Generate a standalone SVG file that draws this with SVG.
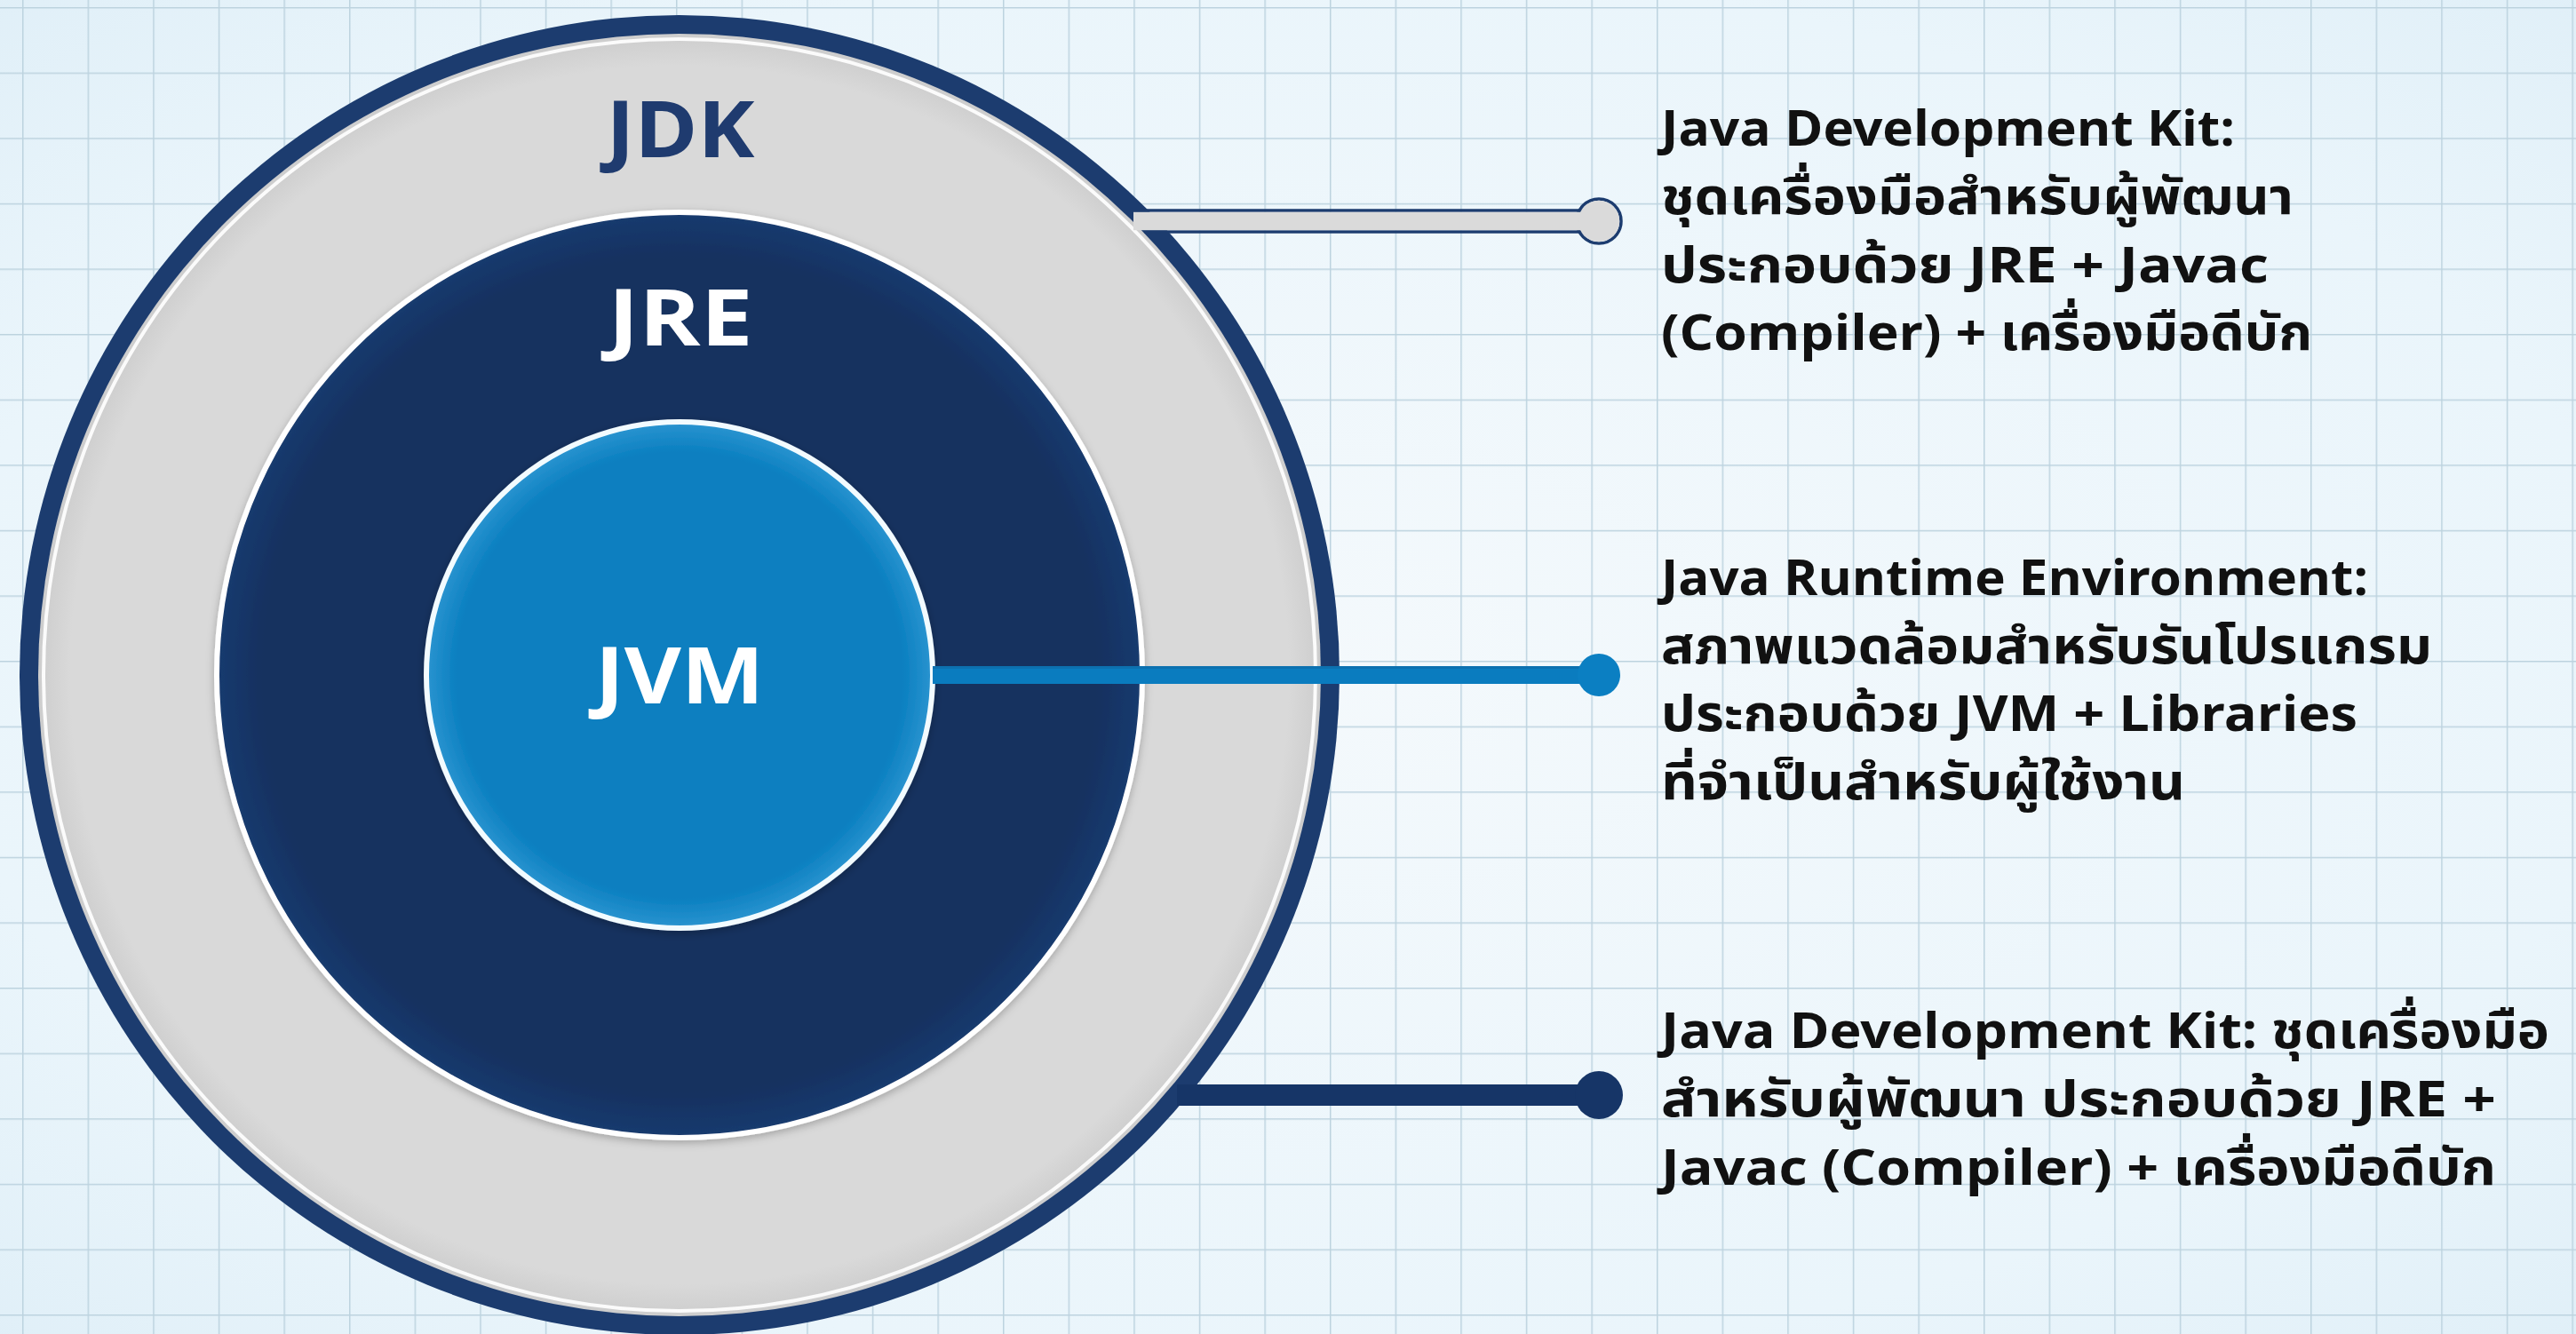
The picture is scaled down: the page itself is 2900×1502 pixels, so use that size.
<svg xmlns="http://www.w3.org/2000/svg" width="2900" height="1502" viewBox="0 0 2900 1502">
  <defs>
    <radialGradient id="bg" cx="0.5" cy="0.5" r="0.75">
      <stop offset="0" stop-color="#f4f9fc"/>
      <stop offset="0.7" stop-color="#eaf5fb"/>
      <stop offset="1" stop-color="#deeef7"/>
    </radialGradient>
    <pattern id="grid" x="25" y="8" width="73.6" height="73.6" patternUnits="userSpaceOnUse">
      <path d="M0 0 H73.6 M0 0 V73.6" fill="none" stroke="#bdd3df" stroke-width="3"/>
    </pattern>
    <radialGradient id="grayFill" cx="0.5" cy="0.5" r="0.5">
      <stop offset="0.95" stop-color="#d9d9d9"/>
      <stop offset="1" stop-color="#cdcdcd"/>
    </radialGradient>
    <radialGradient id="navyFill" cx="0.5" cy="0.5" r="0.5">
      <stop offset="0.9" stop-color="#12305f"/>
      <stop offset="1" stop-color="#1a3b6f"/>
    </radialGradient>
    <radialGradient id="blueFill" cx="0.5" cy="0.5" r="0.5">
      <stop offset="0.88" stop-color="#0a7fc0"/>
      <stop offset="1" stop-color="#2a94d0"/>
    </radialGradient>
    <filter id="soft" x="-10%" y="-10%" width="120%" height="120%">
      <feDropShadow dx="0" dy="3" stdDeviation="5" flood-color="#000" flood-opacity="0.25"/>
    </filter>
    <style>
      .label { font-family: "Open Sans", "Noto Sans", "Liberation Sans", sans-serif; font-weight: 700; text-anchor: middle; }
      .desc { font-family: "Noto Sans Thai", "Noto Sans", "Liberation Sans", sans-serif; font-weight: 700; font-size: 56px; fill: #111111; }
    </style>
  </defs>

  <!-- paper background with square grid -->
  <rect width="2900" height="1502" fill="url(#bg)"/>
  <rect width="2900" height="1502" fill="url(#grid)"/>

  <!-- JDK: outer ring -->
  <g id="node-jdk">
    <circle cx="765" cy="760" r="743" fill="#1c3c6f"/>
    <circle cx="765" cy="760" r="722" fill="url(#grayFill)"/>
    <circle cx="765" cy="760" r="716" fill="none" stroke="#ffffff" stroke-width="4" opacity="0.9"/>
    <text class="label" x="766" y="177" font-size="88" fill="#1f3b6f" textLength="167" lengthAdjust="spacingAndGlyphs">JDK</text>
  </g>

  <!-- JRE: middle disc -->
  <g id="node-jre">
    <circle cx="765" cy="760" r="521" fill="url(#navyFill)" stroke="#ffffff" stroke-width="6" filter="url(#soft)"/>
    <text class="label" x="766" y="389" font-size="88" fill="#ffffff" textLength="163" lengthAdjust="spacingAndGlyphs">JRE</text>
  </g>

  <!-- JVM: inner core -->
  <g id="node-jvm">
    <circle cx="765" cy="760" r="285" fill="url(#blueFill)" stroke="#f2fbff" stroke-width="6" filter="url(#soft)"/>
    <text class="label" x="765" y="792" font-size="88" fill="#ffffff" textLength="190" lengthAdjust="spacingAndGlyphs">JVM</text>
  </g>

  <!-- leader lines from each layer to its description -->
  <g id="connectors">
    <!-- JDK leader: light bar with navy outline -->
    <g id="conn-jdk">
      <rect x="1290" y="237" width="510" height="24" fill="none" stroke="#1c3c6f" stroke-width="3.5"/>
      <circle cx="1800" cy="249" r="25" fill="none" stroke="#1c3c6f" stroke-width="3.5"/>
      <rect x="1276" y="238.8" width="524" height="20.4" fill="#dadada"/>
      <circle cx="1800" cy="249" r="23.2" fill="#dadada"/>
    </g>
    <!-- JRE leader: blue bar from the JVM core -->
    <g id="conn-jre">
      <rect x="1050" y="750" width="750" height="20" fill="#0a7cbf"/>
      <rect x="1050" y="750" width="750" height="3" fill="#0e6aa6" opacity="0.6"/>
      <circle cx="1800" cy="760" r="24" fill="#0b7fc2"/>
    </g>
    <!-- lower JDK leader: solid navy bar -->
    <g id="conn-jdk-2">
      <rect x="1325" y="1221" width="475" height="24" fill="#163567"/>
      <circle cx="1800" cy="1233" r="27" fill="#163567"/>
    </g>
  </g>

  <!-- descriptions -->
  <g id="desc-jdk">
    <text class="desc" x="1870" y="164" textLength="646" lengthAdjust="spacingAndGlyphs">Java Development Kit:</text>
    <text class="desc" x="1870" y="241" textLength="712" lengthAdjust="spacingAndGlyphs">ชุดเครื่องมือสำหรับผู้พัฒนา</text>
    <text class="desc" x="1870" y="318" textLength="684" lengthAdjust="spacingAndGlyphs">ประกอบด้วย JRE + Javac</text>
    <text class="desc" x="1870" y="394" textLength="733" lengthAdjust="spacingAndGlyphs">(Compiler) + เครื่องมือดีบัก</text>
  </g>

  <g id="desc-jre">
    <text class="desc" x="1870" y="670" textLength="796" lengthAdjust="spacingAndGlyphs">Java Runtime Environment:</text>
    <text class="desc" x="1870" y="747" textLength="868" lengthAdjust="spacingAndGlyphs">สภาพแวดล้อมสำหรับรันโปรแกรม</text>
    <text class="desc" x="1870" y="823" textLength="784" lengthAdjust="spacingAndGlyphs">ประกอบด้วย JVM + Libraries</text>
    <text class="desc" x="1870" y="900" textLength="590" lengthAdjust="spacingAndGlyphs">ที่จำเป็นสำหรับผู้ใช้งาน</text>
  </g>

  <g id="desc-jdk-2">
    <text class="desc" x="1870" y="1180" textLength="1000" lengthAdjust="spacingAndGlyphs">Java Development Kit: ชุดเครื่องมือ</text>
    <text class="desc" x="1870" y="1257" textLength="940" lengthAdjust="spacingAndGlyphs">สำหรับผู้พัฒนา ประกอบด้วย JRE +</text>
    <text class="desc" x="1870" y="1334" textLength="940" lengthAdjust="spacingAndGlyphs">Javac (Compiler) + เครื่องมือดีบัก</text>
  </g>
</svg>
